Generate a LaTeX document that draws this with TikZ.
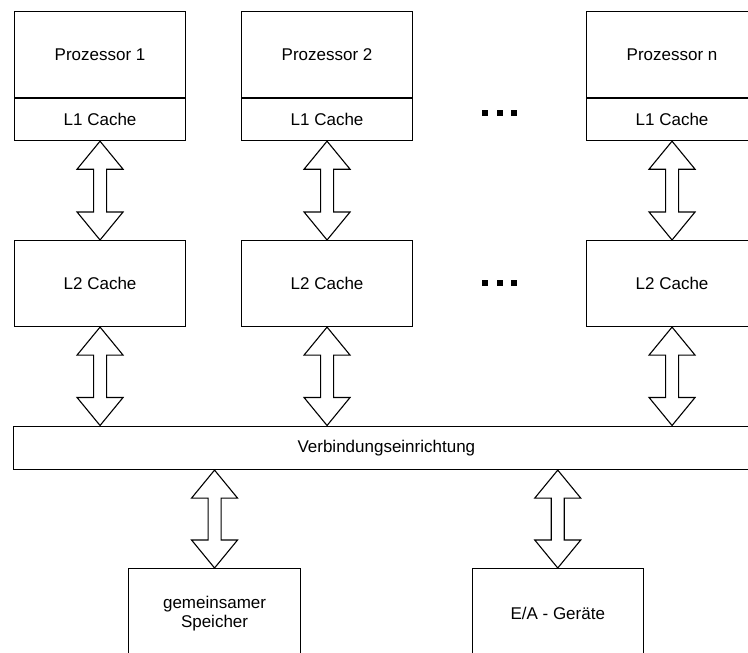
\documentclass[tikz,border=0pt]{standalone}
\usepackage{fontspec}
\setmainfont{Liberation Sans}
\usetikzlibrary{calc}

\tikzset{
  cell/.style={draw=black, line width=1.1pt, fill=white, minimum width=171pt,
    inner sep=0pt, anchor=north west, align=center,
    font=\fontsize{17}{18.5}\selectfont},
  bigarrow/.style={draw=black, line width=1.1pt, fill=white, line join=miter},
  dotmark/.style={fill=black, draw=none, minimum size=6pt, inner sep=0pt},
}

% hollow double-headed block arrow between two vertically aligned points
\newcommand\biarrow[2]{%
  \path[bigarrow] let \p1=(#1), \p2=(#2) in
    (\x1,\y1) -- ({\x1+23pt},{\y1-28pt}) -- ({\x1+6.5pt},{\y1-28pt})
    -- ({\x1+6.5pt},{\y2+28pt}) -- ({\x1+23pt},{\y2+28pt}) -- (\x1,\y2)
    -- ({\x1-23pt},{\y2+28pt}) -- ({\x1-6.5pt},{\y2+28pt})
    -- ({\x1-6.5pt},{\y1-28pt}) -- ({\x1-23pt},{\y1-28pt}) -- cycle;}

\begin{document}
\begin{tikzpicture}[x=1pt,y=-1pt]
  \path[use as bounding box, fill=white] (0,0) rectangle (748,653);
  \clip (0,0) rectangle (748,653);

  % processors with their L1 caches
  \node[cell, minimum height=86pt] (p1) at (14,11) {Prozessor 1};
  \node[cell, minimum height=42pt, anchor=north] (c1) at (p1.south) {L1 Cache};
  \node[cell, minimum height=86pt] (p2) at (241,11) {Prozessor 2};
  \node[cell, minimum height=42pt, anchor=north] (c2) at (p2.south) {L1 Cache};
  \node[cell, minimum height=86pt] (pn) at (586,11) {Prozessor n};
  \node[cell, minimum height=42pt, anchor=north] (cn) at (pn.south) {L1 Cache};

  % L2 caches
  \node[cell, minimum height=86pt] (l1) at (14,240) {L2 Cache};
  \node[cell, minimum height=86pt] (l2) at (241,240) {L2 Cache};
  \node[cell, minimum height=86pt] (ln) at (586,240) {L2 Cache};

  % interconnect
  \node[cell, minimum width=745pt, minimum height=43.5pt] (bus) at (13.3,425.5) {Verbindungseinrichtung};

  % memory and I/O
  \node[cell, minimum width=172pt, minimum height=90pt] (mem) at (128,568) {gemeinsamer\\Speicher};
  \node[cell, minimum width=171pt, minimum height=90pt] (io) at (471.7,568) {E/A - Geräte};

  % ellipsis marks
  \node[dotmark] (a1) at (485,113) {};
  \node[dotmark] (a2) at (499.5,113) {};
  \node[dotmark] (a3) at (514,113) {};
  \node[dotmark] (b1) at (485,283) {};
  \node[dotmark] (b2) at (499.5,283) {};
  \node[dotmark] (b3) at (514,283) {};

  % L1 <-> L2
  \biarrow{c1.south}{l1.north}
  \biarrow{c2.south}{l2.north}
  \biarrow{cn.south}{ln.north}

  % L2 <-> interconnect
  \biarrow{l1.south}{bus.north -| l1.south}
  \biarrow{l2.south}{bus.north -| l2.south}
  \biarrow{ln.south}{bus.north -| ln.south}

  % interconnect <-> memory / I/O
  \biarrow{bus.south -| mem.north}{mem.north}
  \biarrow{bus.south -| io.north}{io.north}
\end{tikzpicture}
\end{document}
